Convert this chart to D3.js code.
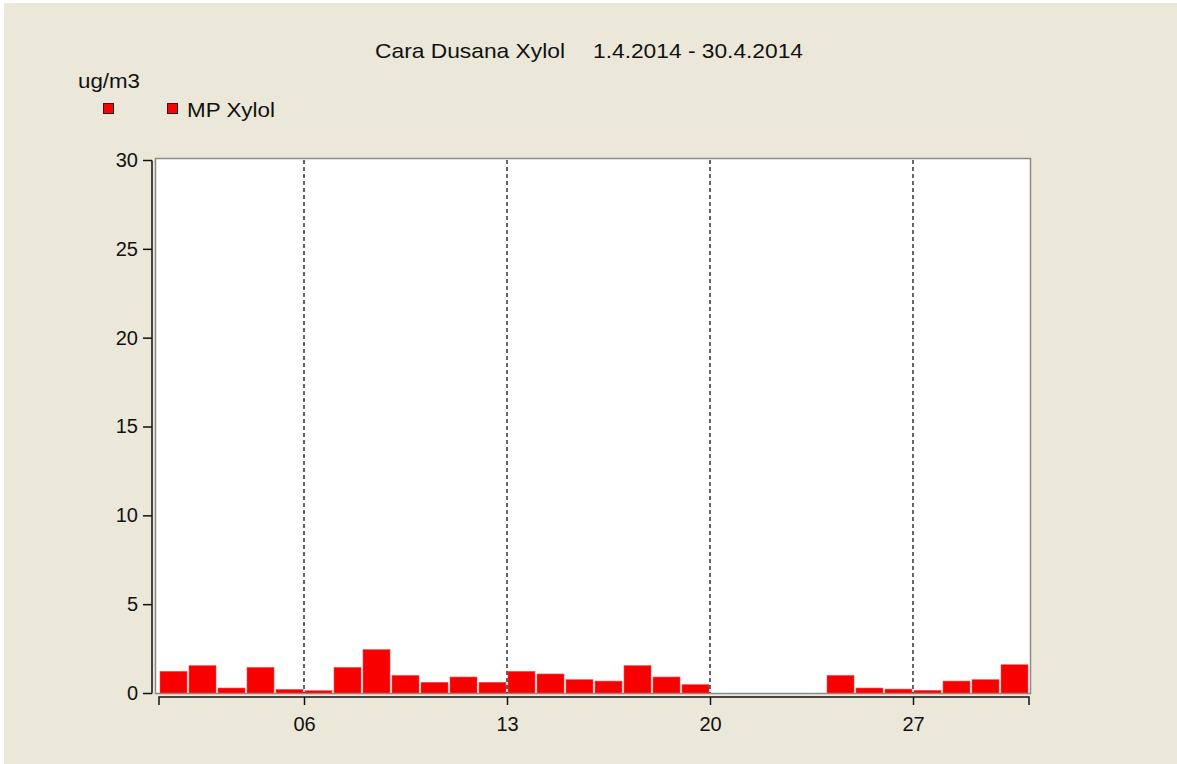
<!DOCTYPE html>
<html><head><meta charset="utf-8">
<script src="https://cdn.jsdelivr.net/npm/d3@7"></script>
<style>body{margin:0;background:#fff;} text{font-family:"Liberation Sans",Arial,sans-serif;fill:#111;}</style>
</head><body>
<svg id="c" width="1177" height="764"></svg>
<script>
const titleMain = "Cara Dusana Xylol";
const titleRange = "1.4.2014 - 30.4.2014";
const unitLabel = "ug/m3";
const seriesName = "MP Xylol";
const days = d3.range(1, 31);
const values = [1.22,1.54,0.28,1.44,0.2,0.13,1.44,2.44,0.99,0.6,0.9,0.6,1.22,1.07,0.75,0.67,1.54,0.9,0.47,null,null,null,null,0.99,0.28,0.22,0.15,0.67,0.75,1.59];
const yTicks = [0,5,10,15,20,25,30];
const xTickDays = [6,13,20,27];
const xTickLabels = ["06","13","20","27"];

const svg = d3.select("#c");
svg.append("rect").attr("x",4).attr("y",3).attr("width",1173).attr("height",761).attr("fill","#ebe8d9");

const x = d3.scaleLinear().domain([1,31]).range([159,1029]);
const y = d3.scaleLinear().domain([0,30]).range([693,160]);

// plot area
svg.append("rect").attr("x",155.5).attr("y",158.5).attr("width",875).attr("height",535)
  .attr("fill","#fff").attr("stroke","#8a8a86").attr("stroke-width",1.5);

function label(txt, x0, y0, len){
  svg.append("text").attr("x",x0).attr("y",y0).attr("font-size",21)
    .attr("textLength",len).attr("lengthAdjust","spacingAndGlyphs").text(txt);
}
label(titleMain,375,58,190);
label(titleRange,593,58,210);
label(unitLabel,78,88,62);
svg.append("rect").attr("x",103.5).attr("y",103.5).attr("width",10).attr("height",10).attr("fill","#f00").attr("stroke","#222").attr("stroke-width",1);
svg.append("rect").attr("x",167.5).attr("y",103.5).attr("width",10).attr("height",10).attr("fill","#f00").attr("stroke","#222").attr("stroke-width",1);
label(seriesName,187,117,88);

// bars
const data = days.map((d,i)=>({day:d,v:values[i]})).filter(d=>d.v!=null);
svg.append("g").selectAll("rect").data(data).join("rect")
  .attr("x",d=>x(d.day)+1).attr("width",d=>x(d.day+1)-x(d.day)-2)
  .attr("y",d=>y(d.v)).attr("height",d=>y(0)-y(d.v))
  .attr("fill","#f80000").attr("stroke","#f05050").attr("stroke-width",0.6);

// dashed lines
svg.append("g").selectAll("line").data(xTickDays).join("line")
  .attr("x1",d=>x(d)).attr("x2",d=>x(d)).attr("y1",160).attr("y2",693)
  .attr("stroke","#000").attr("stroke-width",1.2).attr("stroke-dasharray","4,3");

// y axis
const ya = svg.append("g").attr("transform","translate(152,0)")
  .call(d3.axisLeft(y).tickValues(yTicks).tickSize(9).tickPadding(5));
ya.select(".domain").attr("stroke","#111").attr("stroke-width",1.5).attr("d","M0,160.5V693.5");
ya.selectAll(".tick line").attr("stroke","#111").attr("stroke-width",1.5);
ya.selectAll("text").attr("font-size",20).attr("font-family","Liberation Sans, Arial, sans-serif").attr("fill","#111");

// x axis
const xa = svg.append("g").attr("transform","translate(0,697)")
  .call(d3.axisBottom(x).tickValues(xTickDays).tickFormat((d,i)=>xTickLabels[i]).tickSize(8).tickPadding(12));
xa.select(".domain").attr("stroke","#111").attr("stroke-width",1.5).attr("d","M"+x(1)+",8V0H"+x(31)+"V8");
xa.selectAll(".tick line").attr("stroke","#111").attr("stroke-width",1.5);
xa.selectAll("text").attr("font-size",20).attr("font-family","Liberation Sans, Arial, sans-serif").attr("fill","#111");
</script>
</body></html>
